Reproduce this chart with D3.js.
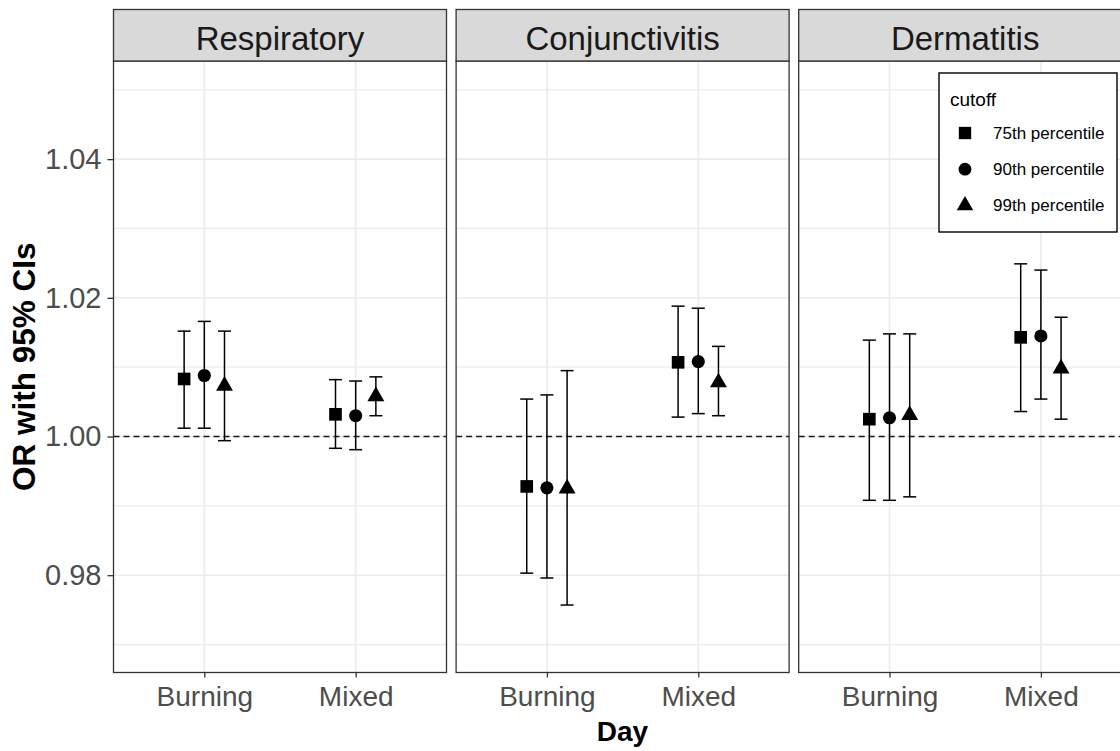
<!DOCTYPE html>
<html>
<head>
<meta charset="utf-8">
<script src="https://cdn.jsdelivr.net/npm/d3@7"></script>
<style>
  html, body { margin: 0; padding: 0; background: #ffffff; }
  svg { display: block; }
  text { font-family: "Liberation Sans", Arial, sans-serif; }
</style>
</head>
<body>
<svg id="chart" width="1120" height="751"></svg>
<script>
// ---------------- data ----------------
const panels = ["Respiratory", "Conjunctivitis", "Dermatitis"];
const days = ["Burning", "Mixed"];
const cutoffs = ["75th percentile", "90th percentile", "99th percentile"];
const yTicks = [0.98, 1.00, 1.02, 1.04];
const yMinorTicks = [0.97, 0.99, 1.01, 1.03, 1.05];
const refLine = 1.00;

// order: panel -> day -> cutoff
const estimate = [
  // Respiratory
  1.0083, 1.0088, 1.0073,   1.0032, 1.0030, 1.0058,
  // Conjunctivitis
  0.9928, 0.9926, 0.9925,   1.0107, 1.0108, 1.0078,
  // Dermatitis
  1.0025, 1.0027, 1.0031,   1.0143, 1.0145, 1.0098
];
const lower = [
  1.0012, 1.0012, 0.9994,   0.9983, 0.9981, 1.0030,
  0.9803, 0.9796, 0.9757,   1.0028, 1.0033, 1.0030,
  0.9908, 0.9908, 0.9913,   1.0036, 1.0054, 1.0025
];
const upper = [
  1.0152, 1.0166, 1.0152,   1.0082, 1.0080, 1.0086,
  1.0054, 1.0060, 1.0095,   1.0188, 1.0185, 1.0130,
  1.0139, 1.0148, 1.0148,   1.0249, 1.0240, 1.0172
];

const rows = [];
let k = 0;
panels.forEach(p => days.forEach(d => cutoffs.forEach(c => {
  rows.push({ panel: p, day: d, cutoff: c, est: estimate[k], lo: lower[k], hi: upper[k] });
  k++;
})));

// ---------------- layout ----------------
const svg = d3.select("#chart");
const panelLeft0 = 113.5, panelStep = 342.6, panelW = 333;
const plotTop = 61, plotBottom = 672.5, stripTop = 9.5;

const y = d3.scaleLinear().domain([0.96597, 1.05415]).range([plotBottom, plotTop]);
const x = d3.scalePoint().domain(days).range([0, panelW]).padding(0.6);
const dodge = d3.scaleBand().domain(cutoffs).range([-0.2 * x.step(), 0.2 * x.step()]);
const shape = d3.scaleOrdinal().domain(cutoffs)
  .range([d3.symbolSquare, d3.symbolCircle, d3.symbolTriangle]);
const shapeSize = d3.scaleOrdinal().domain(cutoffs).range([160, 136, 124]);

const gridColor = "#EBEBEB";
const frameColor = "#333333";

panels.forEach((p, i) => {
  const g = svg.append("g").attr("transform", `translate(${panelLeft0 + i * panelStep},0)`);

  // background
  g.append("rect").attr("x", 0).attr("y", plotTop).attr("width", panelW)
    .attr("height", plotBottom - plotTop).attr("fill", "#fff");

  // minor grid
  g.selectAll(".ymin").data(yMinorTicks).join("line")
    .attr("x1", 0).attr("x2", panelW)
    .attr("y1", d => y(d)).attr("y2", d => y(d))
    .attr("stroke", gridColor).attr("stroke-width", 1.2);
  // major grid
  g.selectAll(".ymaj").data(yTicks).join("line")
    .attr("x1", 0).attr("x2", panelW)
    .attr("y1", d => y(d)).attr("y2", d => y(d))
    .attr("stroke", gridColor).attr("stroke-width", 1.6);
  g.selectAll(".xmaj").data(days).join("line")
    .attr("x1", d => x(d)).attr("x2", d => x(d))
    .attr("y1", plotTop).attr("y2", plotBottom)
    .attr("stroke", gridColor).attr("stroke-width", 1.6);

  // reference line
  g.append("line").attr("x1", 0).attr("x2", panelW)
    .attr("y1", y(refLine)).attr("y2", y(refLine))
    .attr("stroke", "#1a1a1a").attr("stroke-width", 1.5)
    .attr("stroke-dasharray", "6,4");

  const data = rows.filter(r => r.panel === p);
  const cx = d => x(d.day) + dodge(d.cutoff) + dodge.bandwidth() / 2;

  // error bars
  const eb = g.selectAll(".eb").data(data).join("g");
  eb.append("line").attr("x1", cx).attr("x2", cx)
    .attr("y1", d => y(d.lo)).attr("y2", d => y(d.hi))
    .attr("stroke", "#000").attr("stroke-width", 1.5);
  eb.append("line").attr("x1", d => cx(d) - 6.5).attr("x2", d => cx(d) + 6.5)
    .attr("y1", d => y(d.hi)).attr("y2", d => y(d.hi))
    .attr("stroke", "#000").attr("stroke-width", 1.5);
  eb.append("line").attr("x1", d => cx(d) - 6.5).attr("x2", d => cx(d) + 6.5)
    .attr("y1", d => y(d.lo)).attr("y2", d => y(d.lo))
    .attr("stroke", "#000").attr("stroke-width", 1.5);

  // points
  g.selectAll(".pt").data(data).join("path")
    .attr("transform", d => `translate(${cx(d)},${y(d.est)})`)
    .attr("d", d => d3.symbol().type(shape(d.cutoff)).size(shapeSize(d.cutoff))())
    .attr("fill", "#000");

  // panel border
  g.append("rect").attr("x", 0).attr("y", plotTop).attr("width", panelW)
    .attr("height", plotBottom - plotTop).attr("fill", "none")
    .attr("stroke", frameColor).attr("stroke-width", 1.3);

  // strip
  g.append("rect").attr("x", 0).attr("y", stripTop).attr("width", panelW)
    .attr("height", plotTop - stripTop).attr("fill", "#D9D9D9")
    .attr("stroke", frameColor).attr("stroke-width", 1.3);
  g.append("text").attr("x", panelW / 2).attr("y", 50)
    .attr("text-anchor", "middle").attr("font-size", 33).attr("fill", "#1A1A1A")
    .text(p);

  // x axis
  const xAxis = g.append("g").attr("transform", `translate(0,${plotBottom})`)
    .call(d3.axisBottom(x).tickSize(5).tickPadding(9));
  xAxis.select(".domain").remove();
  xAxis.selectAll(".tick line").attr("stroke", frameColor).attr("stroke-width", 1.3);
  xAxis.selectAll(".tick text").attr("font-size", 28).attr("fill", "#4D4D4D")
    .attr("font-family", "Liberation Sans, Arial, sans-serif");
});

// y axis (left panel only)
const yAxis = svg.append("g").attr("transform", `translate(${panelLeft0},0)`)
  .call(d3.axisLeft(y).tickValues(yTicks).tickFormat(d3.format(".2f")).tickSize(6).tickPadding(6));
yAxis.select(".domain").remove();
yAxis.selectAll(".tick line").attr("stroke", frameColor).attr("stroke-width", 1.3);
yAxis.selectAll(".tick text").attr("font-size", 29).attr("fill", "#4D4D4D")
  .attr("font-family", "Liberation Sans, Arial, sans-serif");

// axis titles
svg.append("text").attr("x", 622.5).attr("y", 741)
  .attr("text-anchor", "middle").attr("font-size", 28).attr("font-weight", "bold")
  .attr("fill", "#000").text("Day");
svg.append("text")
  .attr("transform", `translate(35,${(plotTop + plotBottom) / 2}) rotate(-90)`)
  .attr("text-anchor", "middle").attr("font-size", 31.5).attr("font-weight", "bold")
  .attr("fill", "#000").text("OR with 95% CIs");

// legend
const lg = svg.append("g").attr("transform", "translate(939,73)");
lg.append("rect").attr("x", 0).attr("y", 0).attr("width", 178).attr("height", 159)
  .attr("fill", "#fff").attr("stroke", "#000").attr("stroke-width", 1.4);
lg.append("text").attr("x", 11).attr("y", 33).attr("font-size", 19)
  .attr("fill", "#000").text("cutoff");
const items = lg.selectAll(".item").data(cutoffs).join("g")
  .attr("transform", (d, i) => `translate(26,${60 + i * 36.2})`);
items.append("path")
  .attr("d", d => d3.symbol().type(shape(d)).size(shapeSize(d) * 0.95)())
  .attr("fill", "#000");
items.append("text").attr("x", 28).attr("y", 0).attr("dy", "0.35em")
  .attr("font-size", 17).attr("fill", "#000").text(d => d);
</script>
</body>
</html>
